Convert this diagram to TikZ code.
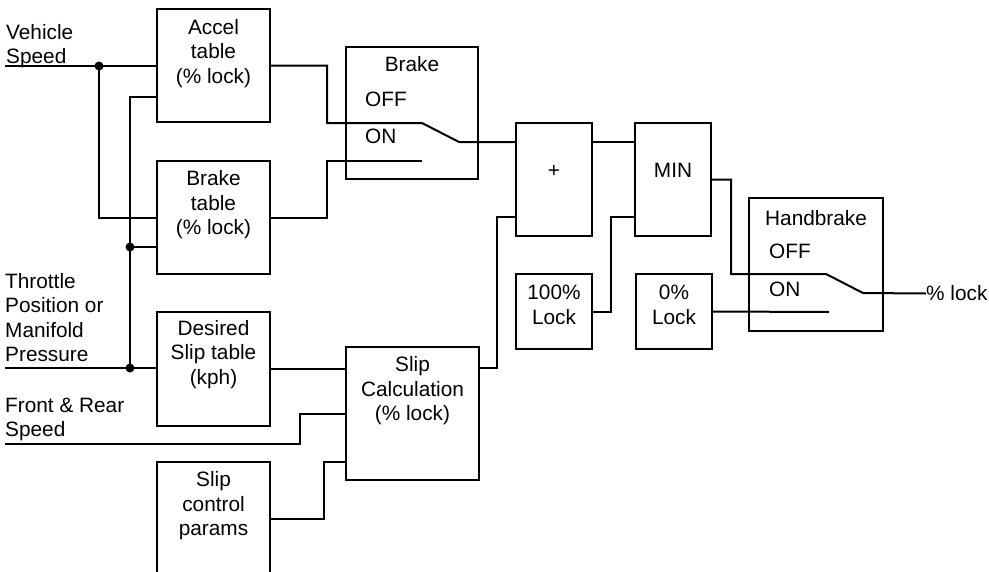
\documentclass[tikz,border=0pt]{standalone}
\usepackage{fontspec}
\setmainfont{Liberation Sans}
\begin{document}
\begin{tikzpicture}[x=1pt,y=-1pt,
  blk/.style={draw,line width=2pt,inner sep=0pt,outer sep=0pt},
  wire/.style={line width=2pt},
  txt/.style={inner sep=0pt,font=\fontsize{20.8}{24.5}\selectfont},
  ctxt/.style={txt,anchor=north,align=center},
  ltxt/.style={txt,anchor=north west,align=left},
  dot/.style={fill,black}]
\useasboundingbox (0,0) rectangle (989,571);

% boxes
\node[blk,minimum width=113,minimum height=113] (accel) at (213.5,65.5) {};
\node[blk,minimum width=113,minimum height=113] (braketab) at (213.5,217.5) {};
\node[blk,minimum width=113,minimum height=114] (desired) at (213.5,369) {};
\node[blk,minimum width=113,minimum height=114] (slipctl) at (213.5,519) {};
\node[blk,minimum width=132,minimum height=132] (brakesw) at (412,113) {};
\node[blk,minimum width=76,minimum height=113] (plus) at (554,179.5) {};
\node[blk,minimum width=76,minimum height=113] (min) at (673,179.5) {};
\node[blk,minimum width=76,minimum height=75] (lockfull) at (554,311.5) {};
\node[blk,minimum width=76,minimum height=75] (lockzero) at (674,311.5) {};
\node[blk,minimum width=133,minimum height=133] (slipcalc) at (412.5,413.5) {};
\node[blk,minimum width=134,minimum height=133] (handsw) at (816,264.5) {};

% texts
\node[ltxt] (tvs) at (6,24) {Vehicle\\Speed};
\node[ltxt] (ttp) at (5,273) {Throttle\\Position or\\Manifold\\Pressure};
\node[ltxt] (tfr) at (5,397.5) {Front \& Rear\\Speed};
\node[ctxt] (taccel) at (213.5,19) {Accel\\table\\(\% lock)};
\node[ctxt] (tbraketab) at (213.5,170.5) {Brake\\table\\(\% lock)};
\node[ctxt] (tdesired) at (213.5,320) {Desired\\Slip table\\(kph)};
\node[ctxt] (tslipctl) at (213.5,471.5) {Slip\\control\\params};
\node[ctxt] (tslipcalc) at (412.5,356.5) {Slip\\Calculation\\(\% lock)};
\node[ctxt] (tbrake) at (412,56.5) {Brake};
\node[ltxt] (tboff) at (365,91.5) {OFF};
\node[ltxt] (tbon) at (365,129) {ON};
\node[txt] (tplus) at (554,171) {+};
\node[ctxt] (tmin) at (673,163) {MIN};
\node[ctxt] (tfull) at (554,285) {100\%\\Lock};
\node[ctxt] (tzero) at (674,285) {0\%\\Lock};
\node[ltxt] (thand) at (765,210) {Handbrake};
\node[ltxt] (thoff) at (769,243.3) {OFF};
\node[ltxt] (thon) at (769,281.5) {ON};
\node[txt,anchor=west] (out) at (926,293.5) {\% lock};

% coordinates
\coordinate (vs) at (5,66);
\coordinate (j1) at (99,66);
\coordinate (tp) at (5,368);
\coordinate (j2) at (130,368);
\coordinate (j3) at (130,97);
\coordinate (j4) at (130,247);
\coordinate (fr) at (5,444);
\coordinate (bsoff) at (422,123);
\coordinate (bson) at (422,161);
\coordinate (bspiv) at (459,142);
\coordinate (hsoff) at (826,274);
\coordinate (hson) at (829,312);
\coordinate (hspiv) at (863,293);

% wires
\draw[wire] (vs) -- (vs -| accel.west);
\draw[wire] (j1) |- (braketab.west);
\draw[wire] (tp) -- (tp -| desired.west);
\draw[wire] (j2) -- (j3) -- (j3 -| accel.west);
\draw[wire] (j4) -- (j4 -| braketab.west);
\draw[wire] (accel.east) -- ++(57,0) |- (bsoff) -- (bspiv) -- (bspiv -| plus.west);
\draw[wire] (braketab.east) -- ++(57,0) |- (bson);
\draw[wire] (bspiv -| plus.east) -- (bspiv -| min.west);
\draw[wire] (tp -| slipcalc.east) -- (497,368) |- (plus.west |- 0,217);
\draw[wire] (lockfull.east) -- ++(19,0) |- (min.west |- 0,217);
\draw[wire] (min.east) -- ++(20,0) |- (hsoff) -- (hspiv) -- (out.west);
\draw[wire] (lockzero.east) -- (hson);
\draw[wire] (desired.east) -- (desired.east -| slipcalc.west);
\draw[wire] (fr) -- (300,444) |- (slipcalc.west);
\draw[wire] (slipctl.east) -- ++(54,0) |- (slipcalc.west |- 0,462);

% junction dots
\fill[dot] (j1) circle (4.5);
\fill[dot] (j2) circle (4.5);
\fill[dot] (j4) circle (4.5);
\end{tikzpicture}
\end{document}
